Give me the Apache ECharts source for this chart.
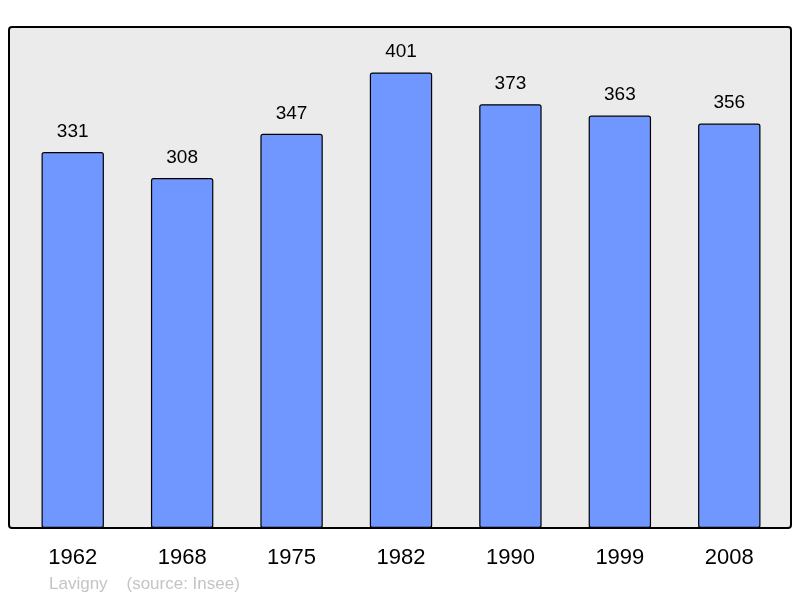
<!DOCTYPE html>
<html>
<head>
<meta charset="utf-8">
<script src="https://cdn.jsdelivr.net/npm/echarts@6/dist/echarts.min.js"></script>
<style>
  html, body { margin: 0; padding: 0; background: #fff; }
  #main { width: 800px; height: 598px; }
</style>
</head>
<body>
<div id="main"></div>
<script>
"use strict";

var years = ["1962", "1968", "1975", "1982", "1990", "1999", "2008"];
var population = [331, 308, 347, 401, 373, 363, 356];

var chart = echarts.init(document.getElementById('main'));

chart.setOption({
    animation: false,
    textStyle: {
        fontFamily: 'Liberation Sans, Arial, sans-serif'
    },
    graphic: [
        {
            type: 'rect',
            z: -10,
            shape: { x: 9, y: 27, width: 782, height: 501, r: 3 },
            style: { fill: '#ebebeb', stroke: '#000', lineWidth: 2 }
        },
        {
            type: 'text',
            left: 49,
            top: 576,
            style: {
                text: 'Lavigny    (source: Insee)',
                fill: '#c4c4c4',
                fontSize: 17,
                fontFamily: 'Liberation Sans, Arial, sans-serif'
            }
        }
    ],
    grid: {
        left: 18,
        right: 16,
        top: 27,
        bottom: 70
    },
    xAxis: {
        type: 'category',
        data: years,
        axisLine: { show: false },
        axisTick: { show: false },
        axisLabel: {
            color: '#000',
            fontSize: 22,
            margin: 19
        }
    },
    yAxis: {
        type: 'value',
        min: 0,
        max: 441,
        show: false,
        splitLine: { show: false }
    },
    series: [{
        type: 'bar',
        data: population,
        barWidth: '57%',
        itemStyle: {
            color: '#7096ff',
            borderColor: '#000',
            borderWidth: 1.2,
            borderRadius: 2
        },
        label: {
            show: true,
            position: 'top',
            distance: 11,
            color: '#000',
            fontSize: 19
        }
    }]
});
</script>
</body>
</html>
